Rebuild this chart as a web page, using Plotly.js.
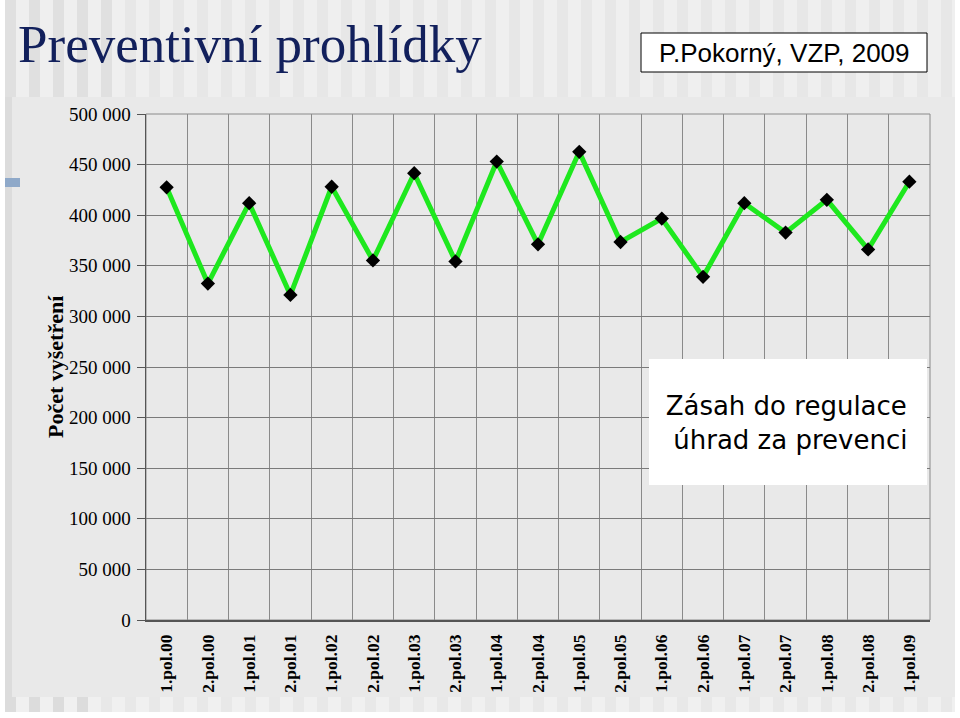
<!DOCTYPE html>
<html>
<head>
<meta charset="utf-8">
<script src="https://cdn.plot.ly/plotly-3.0.1.min.js"></script>
<style>html,body{margin:0;padding:0;background:#fff;}#chart{width:960px;height:718px;}</style>
</head>
<body>
<div id="chart"></div>
<script>
const categories = ["1.pol.00","2.pol.00","1.pol.01","2.pol.01","1.pol.02","2.pol.02","1.pol.03","2.pol.03","1.pol.04","2.pol.04","1.pol.05","2.pol.05","1.pol.06","2.pol.06","1.pol.07","2.pol.07","1.pol.08","2.pol.08","1.pol.09"];
const examinations = [427500,332400,411900,321200,428100,355300,441500,354300,453000,371200,462600,373500,396700,339100,411900,382800,415200,366200,433100];
const yTicks = [0,50000,100000,150000,200000,250000,300000,350000,400000,450000,500000];
const titleText = "Preventivní prohlídky";
const authorText = "P.Pokorný, VZP, 2009";
const noteText = "Zásah do regulace<br> úhrad za prevenci";
const yTitleText = "Počet vyšetření";

const W = 960, H = 718;
const px = x => x / W;
const py = y => 1 - y / H;
const serif = 'Liberation Serif, Times New Roman, serif';

const shapes = [];
// background panels (decoration)
shapes.push({type:'rect', xref:'paper', yref:'paper', x0:px(5), x1:px(955), y0:py(97), y1:py(0), fillcolor:'#efefef', line:{width:0}, layer:'below'});
for (let x = 5; x < 955; x += 24) {
  shapes.push({type:'rect', xref:'paper', yref:'paper', x0:px(x), x1:px(x+11), y0:py(97), y1:py(0), fillcolor: x < 120 ? '#e0e0e0' : '#e7e7e7', line:{width:0}, layer:'below'});
}
shapes.push({type:'rect', xref:'paper', yref:'paper', x0:px(5), x1:px(955), y0:py(712), y1:py(697), fillcolor:'#f0f0f0', line:{width:0}, layer:'below'});
for (let x = 5; x < 955; x += 24) {
  shapes.push({type:'rect', xref:'paper', yref:'paper', x0:px(x), x1:px(x+11), y0:py(712), y1:py(697), fillcolor: x < 80 ? '#dcdcdc' : '#e8e8e8', line:{width:0}, layer:'below'});
}
shapes.push({type:'rect', xref:'paper', yref:'paper', x0:px(5), x1:px(955), y0:py(697), y1:py(97), fillcolor:'#e9e9e9', line:{width:0}, layer:'below'});
shapes.push({type:'rect', xref:'paper', yref:'paper', x0:px(5), x1:px(12), y0:py(712), y1:py(97), fillcolor:'#dcdcdc', line:{width:0}, layer:'below'});
shapes.push({type:'rect', xref:'paper', yref:'paper', x0:px(5), x1:px(20), y0:py(187), y1:py(178), fillcolor:'#8fa9c9', line:{width:0}, layer:'below'});
// plot frame (top/right)
shapes.push({type:'rect', xref:'paper', yref:'paper', x0:px(146), x1:px(930), y0:py(620), y1:py(114), fillcolor:'rgba(0,0,0,0)', line:{color:'#8a8a8a', width:1}, layer:'below'});
// author box
shapes.push({type:'rect', xref:'paper', yref:'paper', x0:px(641), x1:px(927), y0:py(72), y1:py(33), fillcolor:'#ffffff', line:{color:'#000000', width:1}, layer:'above'});
// note box
shapes.push({type:'rect', xref:'paper', yref:'paper', x0:px(649), x1:px(927), y0:py(485), y1:py(359), fillcolor:'#ffffff', line:{width:0}, layer:'above'});

const trace = {
  x: categories,
  y: examinations,
  type: 'scatter',
  mode: 'lines+markers',
  line: {color:'#1ee81e', width:5},
  marker: {symbol:'diamond', size:11, color:'#000000'},
  hoverinfo: 'skip'
};

const layout = {
  width: W, height: H,
  margin: {l:0, r:0, t:0, b:0},
  paper_bgcolor: '#ffffff',
  plot_bgcolor: 'rgba(0,0,0,0)',
  showlegend: false,
  separators: ', ',
  xaxis: {
    domain: [px(146), px(930)],
    type: 'category',
    range: [-0.5, categories.length - 0.5],
    tickson: 'boundaries',
    showgrid: true, gridcolor: '#8a8a8a', gridwidth: 1,
    ticks: '',
    tickangle: -90,
    ticklabelstandoff: 6,
    tickfont: {family:serif, size:17.5, color:'#000', weight:'bold'},
    showline: true, linecolor: '#555555', linewidth: 1.5,
    zeroline: false,
    automargin: false,
    fixedrange: true
  },
  yaxis: {
    domain: [py(620), py(114)],
    range: [0, 500000],
    tickvals: yTicks,
    tickformat: ',d',
    showgrid: true, gridcolor: '#7a7a7a', gridwidth: 1,
    ticks: 'outside', ticklen: 8, tickcolor: '#555555',
    ticklabelstandoff: 2,
    tickfont: {family:serif, size:19, color:'#000'},
    showline: true, linecolor: '#555555', linewidth: 1.5,
    zeroline: false,
    automargin: false,
    fixedrange: true
  },
  shapes: shapes,
  annotations: [
    {xref:'paper', yref:'paper', x:px(16), y:py(44), xanchor:'left', yanchor:'middle', showarrow:false,
     text:titleText, font:{family:serif, size:53, color:'#12205c'}},
    {xref:'paper', yref:'paper', x:px(784), y:py(53), xanchor:'center', yanchor:'middle', showarrow:false,
     text:authorText, font:{family:'Liberation Sans, Arial, sans-serif', size:26, color:'#000'}},
    {xref:'paper', yref:'paper', x:px(786), y:py(423), xanchor:'center', yanchor:'middle', showarrow:false, align:'center',
     text:noteText, font:{family:'DejaVu Sans, Verdana, sans-serif', size:26, color:'#000'}},
    {xref:'paper', yref:'paper', x:px(55), y:py(367), xanchor:'center', yanchor:'middle', showarrow:false, textangle:-90,
     text:yTitleText, font:{family:serif, size:22, color:'#000', weight:'bold'}}
  ]
};

Plotly.newPlot('chart', [trace], layout, {displayModeBar:false, staticPlot:true});
</script>
</body>
</html>
